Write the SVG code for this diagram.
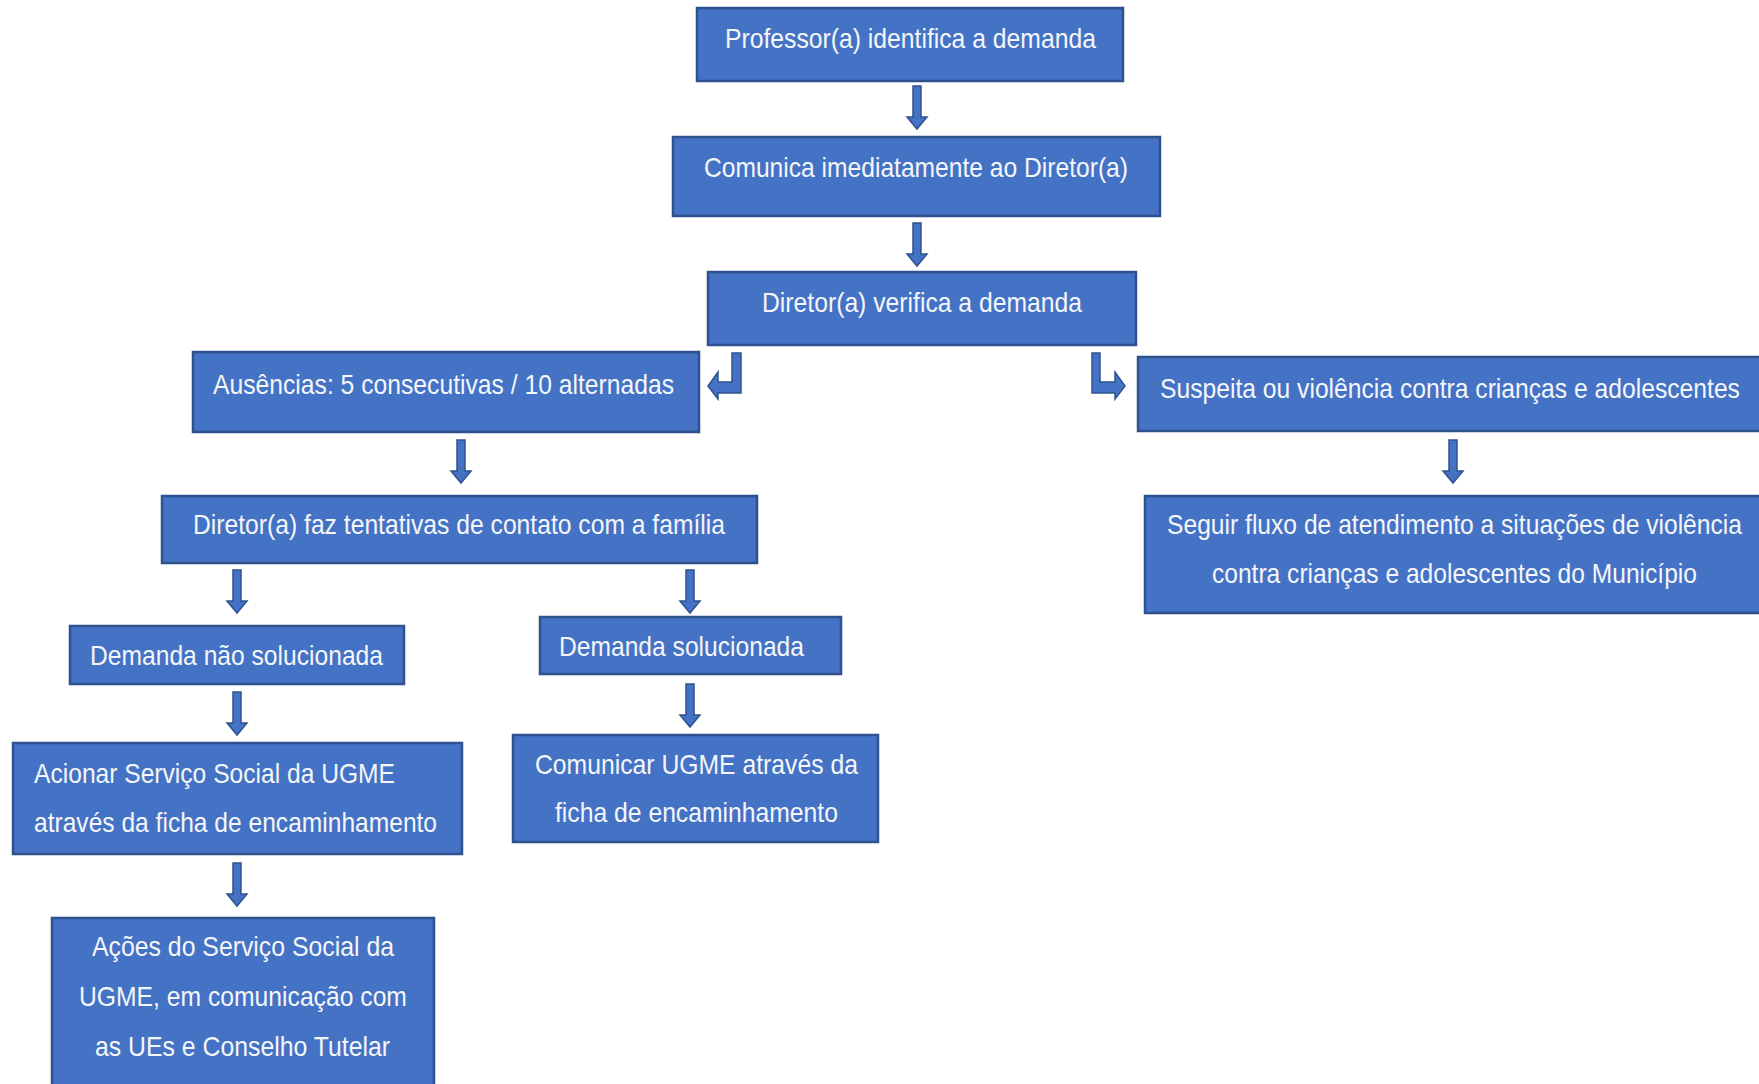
<svg xmlns="http://www.w3.org/2000/svg" width="1759" height="1084" viewBox="0 0 1759 1084">
<style>
.box{fill:#4472C4;stroke:#2F528F;stroke-width:2.5}
.t{font-family:"Liberation Sans",Arial,sans-serif;font-size:28px;fill:#F4F6FA}
.ar{fill:#4472C4;stroke:#2F528F;stroke-width:1.5}
</style>
<defs>
<path id="dn" d="M-4,0 H4 V31 H10 L0,43 L-10,31 H-4 Z"/>
</defs>
<rect width="1759" height="1084" fill="#FFFFFF"/>
<g id="n1"><rect class="box" x="697" y="8" width="426" height="73"/><text class="t" transform="scale(0.82,1)" x="884.1" y="48" textLength="452.4" lengthAdjust="spacingAndGlyphs">Professor(a) identifica a demanda</text></g>
<g id="n2"><rect class="box" x="673" y="137" width="487" height="79"/><text class="t" transform="scale(0.82,1)" x="858.5" y="177" textLength="517.1" lengthAdjust="spacingAndGlyphs">Comunica imediatamente ao Diretor(a)</text></g>
<g id="n3"><rect class="box" x="708" y="272" width="428" height="73"/><text class="t" transform="scale(0.82,1)" x="929.3" y="312" textLength="390.2" lengthAdjust="spacingAndGlyphs">Diretor(a) verifica a demanda</text></g>
<g id="n4"><rect class="box" x="193" y="352" width="506" height="80"/><text class="t" transform="scale(0.82,1)" x="259.8" y="394" textLength="562.2" lengthAdjust="spacingAndGlyphs">Ausências: 5 consecutivas / 10 alternadas</text></g>
<g id="n5"><rect class="box" x="1138" y="357" width="630" height="74"/><text class="t" transform="scale(0.82,1)" x="1414.6" y="398" textLength="707.3" lengthAdjust="spacingAndGlyphs">Suspeita ou violência contra crianças e adolescentes</text></g>
<g id="n6"><rect class="box" x="162" y="496" width="595" height="67"/><text class="t" transform="scale(0.82,1)" x="235.4" y="534" textLength="648.8" lengthAdjust="spacingAndGlyphs">Diretor(a) faz tentativas de contato com a família</text></g>
<g id="n7"><rect class="box" x="1145" y="496" width="620" height="117"/><text class="t" transform="scale(0.82,1)" x="1423.2" y="534" textLength="701.2" lengthAdjust="spacingAndGlyphs">Seguir fluxo de atendimento a situações de violência</text><text class="t" transform="scale(0.82,1)" x="1478" y="583" textLength="591.5" lengthAdjust="spacingAndGlyphs">contra crianças e adolescentes do Município</text></g>
<g id="n8"><rect class="box" x="70" y="626" width="334" height="58"/><text class="t" transform="scale(0.82,1)" x="109.8" y="665" textLength="357.3" lengthAdjust="spacingAndGlyphs">Demanda não solucionada</text></g>
<g id="n9"><rect class="box" x="540" y="617" width="301" height="57"/><text class="t" transform="scale(0.82,1)" x="681.7" y="656" textLength="298.8" lengthAdjust="spacingAndGlyphs">Demanda solucionada</text></g>
<g id="n10"><rect class="box" x="13" y="743" width="449" height="111"/><text class="t" transform="scale(0.82,1)" x="41.5" y="783" textLength="440.2" lengthAdjust="spacingAndGlyphs">Acionar Serviço Social da UGME</text><text class="t" transform="scale(0.82,1)" x="41.5" y="832" textLength="491.5" lengthAdjust="spacingAndGlyphs">através da ficha de encaminhamento</text></g>
<g id="n11"><rect class="box" x="513" y="735" width="365" height="107"/><text class="t" transform="scale(0.82,1)" x="652.4" y="774" textLength="393.9" lengthAdjust="spacingAndGlyphs">Comunicar UGME através da</text><text class="t" transform="scale(0.82,1)" x="676.8" y="822" textLength="345.1" lengthAdjust="spacingAndGlyphs">ficha de encaminhamento</text></g>
<g id="n12"><rect class="box" x="52" y="918" width="382" height="175"/><text class="t" transform="scale(0.82,1)" x="112.2" y="956" textLength="368.3" lengthAdjust="spacingAndGlyphs">Ações do Serviço Social da</text><text class="t" transform="scale(0.82,1)" x="96.3" y="1006" textLength="400" lengthAdjust="spacingAndGlyphs">UGME, em comunicação com</text><text class="t" transform="scale(0.82,1)" x="115.9" y="1056" textLength="359.8" lengthAdjust="spacingAndGlyphs">as UEs e Conselho Tutelar</text></g>
<g id="connectors">
<use href="#dn" class="ar" transform="translate(917,86)"/>
<use href="#dn" class="ar" transform="translate(917,223)"/>
<use href="#dn" class="ar" transform="translate(461,440)"/>
<use href="#dn" class="ar" transform="translate(1453,440)"/>
<use href="#dn" class="ar" transform="translate(237,570)"/>
<use href="#dn" class="ar" transform="translate(690,570)"/>
<use href="#dn" class="ar" transform="translate(237,692)"/>
<use href="#dn" class="ar" transform="translate(690,684)"/>
<use href="#dn" class="ar" transform="translate(237,863)"/>
<path class="ar" d="M732,353 H741 V393 H718 V399 L708,386 L718,372 V382 H732 Z"/>
<path class="ar" d="M1092,353 H1100 V382 H1115 V372 L1125,386 L1115,399 V393 H1092 Z"/>
</g>
</svg>
